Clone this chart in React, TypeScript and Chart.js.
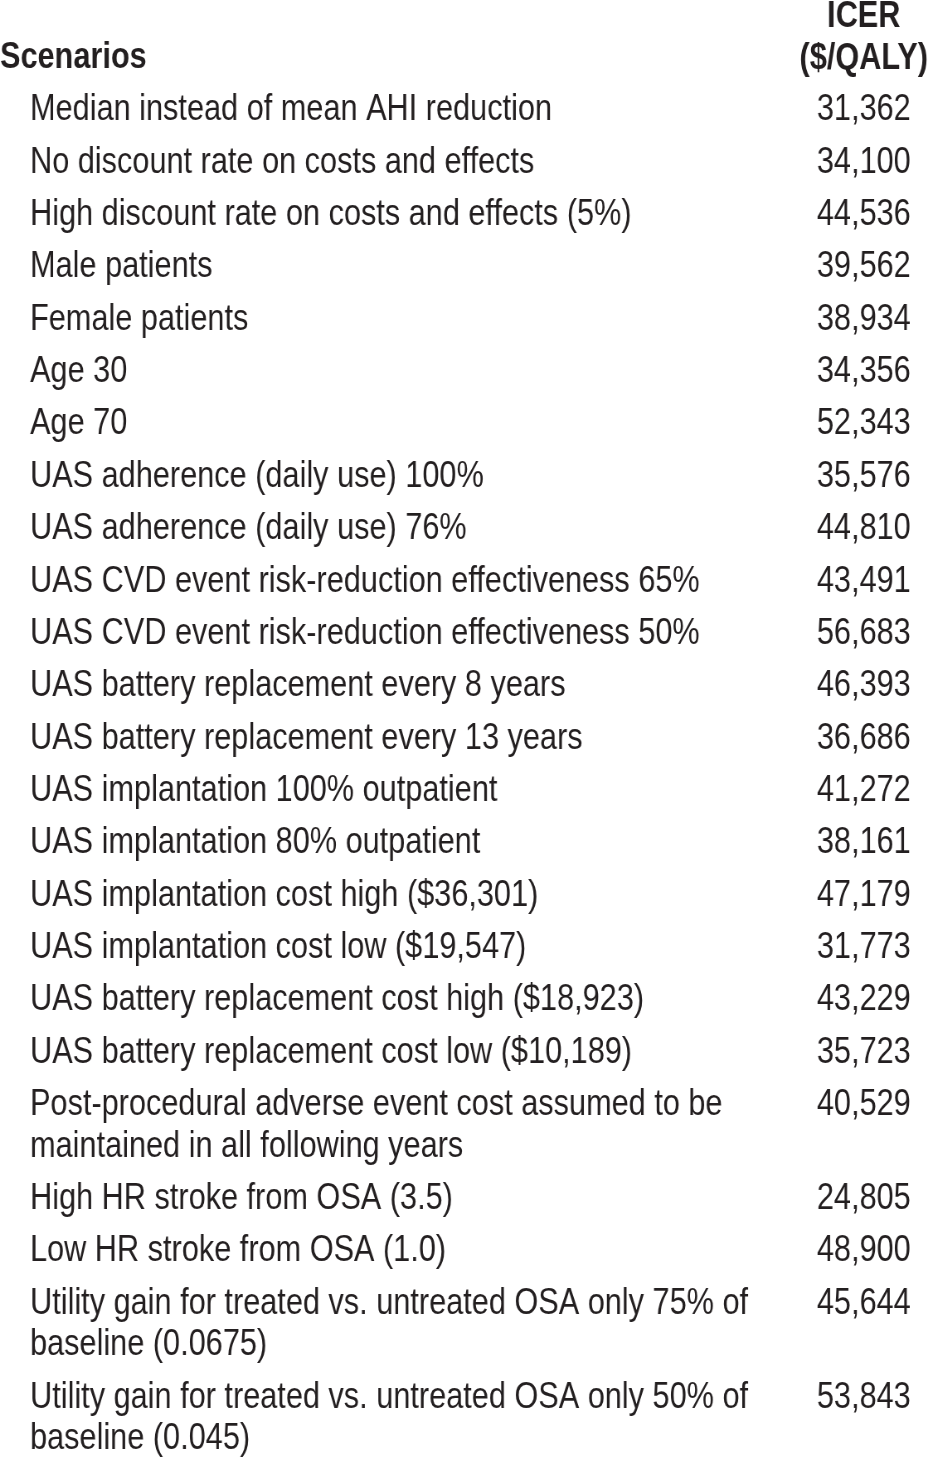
import React, { useEffect, useRef } from 'react';
import { Chart, registerables } from 'chart.js';

Chart.register(...registerables);

// ---------- data ----------
const scenarioHeader = 'Scenarios';
const icerHeader = ['ICER', '($/QALY)'];

const scenarios: (string | string[])[] = [
  'Median instead of mean AHI reduction',
  'No discount rate on costs and effects',
  'High discount rate on costs and effects (5%)',
  'Male patients',
  'Female patients',
  'Age 30',
  'Age 70',
  'UAS adherence (daily use) 100%',
  'UAS adherence (daily use) 76%',
  'UAS CVD event risk-reduction effectiveness 65%',
  'UAS CVD event risk-reduction effectiveness 50%',
  'UAS battery replacement every 8 years',
  'UAS battery replacement every 13 years',
  'UAS implantation 100% outpatient',
  'UAS implantation 80% outpatient',
  'UAS implantation cost high ($36,301)',
  'UAS implantation cost low ($19,547)',
  'UAS battery replacement cost high ($18,923)',
  'UAS battery replacement cost low ($10,189)',
  ['Post-procedural adverse event cost assumed to be', 'maintained in all following years'],
  'High HR stroke from OSA (3.5)',
  'Low HR stroke from OSA (1.0)',
  ['Utility gain for treated vs. untreated OSA only 75% of', 'baseline (0.0675)'],
  ['Utility gain for treated vs. untreated OSA only 50% of', 'baseline (0.045)'],
];

const icerValues: number[] = [
  31362, 34100, 44536, 39562, 38934, 34356, 52343, 35576, 44810, 43491, 56683, 46393,
  36686, 41272, 38161, 47179, 31773, 43229, 35723, 40529, 24805, 48900, 45644, 53843,
];

// ---------- layout / style ----------
const CANVAS_W = 928;
const CANVAS_H = 1458;
// the reference uses a condensed face; no narrow font is installed, so the
// canvas is drawn wider and squeezed horizontally by CSS
const SQUEEZE_X = 0.829;
const LOGICAL_W = Math.round(CANVAS_W / SQUEEZE_X);
const FONT_FAMILY = '"Liberation Sans", Arial, sans-serif';
const FONT_SIZE = 37;
const TEXT_COLOR = '#231f20';
const ROW_PX = 52.37; // distance between row starts
const LINE_PX = 41.5; // distance between wrapped lines
const FIRST_ROW_PX = 110;
const INDENT = 30 / SQUEEZE_X;
const LINE_RATIO = LINE_PX / ROW_PX;

const lineCount = (s: string | string[]) => (Array.isArray(s) ? s.length : 1);

// row start positions, in row units
const rowStarts: number[] = [];
{
  let extra = 0;
  scenarios.forEach((s, i) => {
    rowStarts.push(i + extra * LINE_RATIO);
    extra += lineCount(s) - 1;
  });
}
const scenarioTicks = scenarios.map((s, i) => rowStarts[i] + ((lineCount(s) - 1) * LINE_RATIO) / 2);
const headerPos = -1;
const icerHeaderPos = headerPos - ((icerHeader.length - 1) * LINE_RATIO) / 2 + 0.02;
const icerTicks = [icerHeaderPos, ...rowStarts];
const icerLabels: (string | string[])[] = [icerHeader, ...icerValues.map((v) => v.toLocaleString('en-US'))];

const Y_MIN = -FIRST_ROW_PX / ROW_PX;
const Y_MAX = (CANVAS_H - FIRST_ROW_PX) / ROW_PX;

const zeroPadding = (scale: any) => {
  scale.paddingTop = 0;
  scale.paddingBottom = 0;
  scale.paddingLeft = 0;
  scale.paddingRight = 0;
};

const baseY = {
  type: 'linear' as const,
  axis: 'y' as const,
  min: Y_MIN,
  max: Y_MAX,
  reverse: true,
  grid: { display: false, drawTicks: false },
  border: { display: false },
};

export default function App() {
  const ref = useRef<HTMLCanvasElement | null>(null);

  useEffect(() => {
    if (!ref.current) return;
    const chart = new Chart(ref.current, {
      type: 'line',
      data: { labels: [], datasets: [] },
      options: {
        animation: false,
        responsive: false,
        devicePixelRatio: 1,
        layout: { padding: 0 },
        plugins: { legend: { display: false }, tooltip: { enabled: false }, title: { display: false } },
        scales: {
          x: { display: false },
          yh: {
            ...baseY,
            position: 'left',
            afterBuildTicks: (scale: any) => {
              scale.ticks = [{ value: headerPos }];
            },
            afterFit: (scale: any) => {
              zeroPadding(scale);
              scale.width = 0;
            },
            ticks: {
              autoSkip: false,
              mirror: true,
              padding: 0,
              crossAlign: 'near',
              color: TEXT_COLOR,
              font: { family: FONT_FAMILY, size: FONT_SIZE, weight: 'bold' },
              callback: () => scenarioHeader,
            },
          },
          y: {
            ...baseY,
            position: 'left',
            afterBuildTicks: (scale: any) => {
              scale.ticks = scenarioTicks.map((v) => ({ value: v }));
            },
            afterFit: (scale: any) => {
              zeroPadding(scale);
              scale.width = 0;
            },
            ticks: {
              autoSkip: false,
              mirror: true,
              padding: INDENT,
              crossAlign: 'near',
              color: TEXT_COLOR,
              font: { family: FONT_FAMILY, size: FONT_SIZE, weight: 'normal', lineHeight: `${LINE_PX}px` },
              callback: (_v: any, i: number) => scenarios[i],
            },
          },
          y2: {
            ...baseY,
            position: 'right',
            afterBuildTicks: (scale: any) => {
              scale.ticks = icerTicks.map((v) => ({ value: v }));
            },
            afterFit: (scale: any) => {
              zeroPadding(scale);
            },
            ticks: {
              autoSkip: false,
              padding: 0,
              crossAlign: 'center',
              color: TEXT_COLOR,
              font: (ctx: any) => ({
                family: FONT_FAMILY,
                size: FONT_SIZE,
                weight: ctx.index === 0 ? 'bold' : 'normal',
                lineHeight: `${LINE_PX}px`,
              }),
              callback: (_v: any, i: number) => icerLabels[i],
            },
          },
        },
      } as any,
    });
    return () => chart.destroy();
  }, []);

  return (
    <div style={{ position: 'absolute', left: 0, top: 0, width: CANVAS_W, height: CANVAS_H, background: '#fff', overflow: 'hidden' }}>
      <canvas
        ref={ref}
        width={LOGICAL_W}
        height={CANVAS_H}
        style={{ display: 'block', width: CANVAS_W, height: CANVAS_H }}
      />
    </div>
  );
}
